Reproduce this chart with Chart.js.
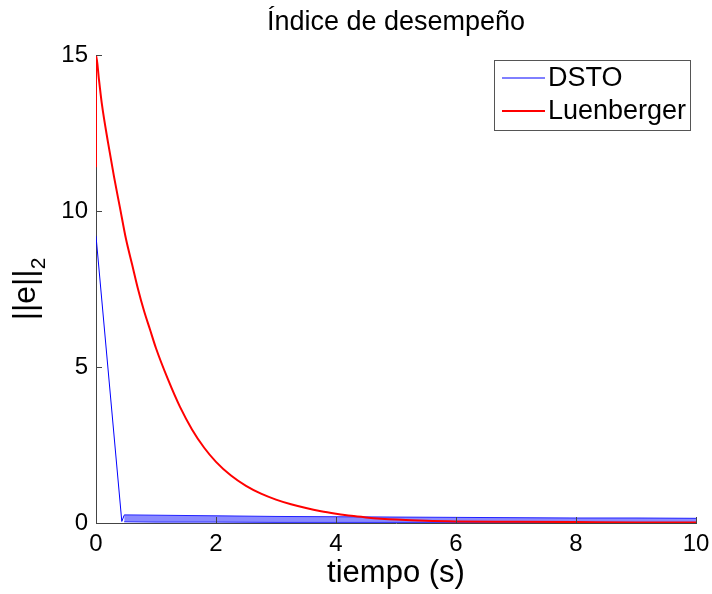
<!DOCTYPE html>
<html>
<head>
<meta charset="utf-8">
<script src="https://cdn.jsdelivr.net/npm/chart.js@4.4.1/dist/chart.umd.min.js"></script>
<style>
  html, body { margin: 0; padding: 0; background: #fff; }
  #wrap { width: 712px; height: 594px; }
</style>
</head>
<body>
<div id="wrap"><canvas id="myChart" width="712" height="594"></canvas></div>
<script>
// datos
const tiempoLuen = [0, 0, 0.05, 0.1, 0.2, 0.3, 0.4, 0.5, 0.6, 0.7, 0.8, 0.9, 1.0, 1.2, 1.4, 1.6, 1.8, 2.0, 2.25, 2.5, 2.75, 3.0, 3.25, 3.5, 3.75, 4.0, 4.25, 4.5, 4.75, 5.0, 5.5, 6.0, 7.0, 8.0, 9.0, 10.0]
const luenberger = [11.4, 15, 14.2, 13.4, 12.2, 11.1, 10.1, 9.1, 8.3, 7.5, 6.8, 6.2, 5.6, 4.6, 3.72, 3.0, 2.42, 1.96, 1.52, 1.19, 0.94, 0.75, 0.6, 0.48, 0.38, 0.3, 0.23, 0.18, 0.14, 0.11, 0.07, 0.05, 0.04, 0.03, 0.02, 0.02]

const tiempoDsto = [0, 0.43, 0.47]
const dsto = [9.2, 0.05, 0.25]

// banda de oscilacion del DSTO (envolventes)
const tiempoBanda = [0.47, 1, 2, 3, 4, 5, 6, 7, 8, 9, 10]
const bandaAlta = [0.26, 0.25, 0.23, 0.21, 0.2, 0.19, 0.18, 0.17, 0.16, 0.16, 0.15]
const bandaBaja = [0.04, 0.03, 0.03, 0.02, 0.02, 0.02, 0.02, 0.02, 0.02, 0.02, 0.02]

const ticksX = [0, 2, 4, 6, 8, 10]
const ticksY = [0, 5, 10, 15]

const fuente = "'Liberation Sans', Arial, Helvetica, sans-serif"
Chart.defaults.font.family = fuente
Chart.defaults.color = "#000"

const pares = (xs, ys) => xs.map((x, i) => ({ x: x, y: ys[i] }))

// marcas de los ejes hacia adentro (estilo matlab)
const marcasAdentro = {
  id: "marcasAdentro",
  afterDatasetsDraw(chart) {
    const { ctx, chartArea, scales } = chart
    ctx.save()
    ctx.strokeStyle = "#444"
    ctx.lineWidth = 1
    ticksX.forEach(v => {
      const px = Math.round(scales.x.getPixelForValue(v)) + 0.5
      ctx.beginPath()
      ctx.moveTo(px, chartArea.bottom)
      ctx.lineTo(px, chartArea.bottom - 6)
      ctx.stroke()
    })
    ticksY.forEach(v => {
      const py = Math.round(scales.y.getPixelForValue(v)) + 0.5
      ctx.beginPath()
      ctx.moveTo(chartArea.left, py)
      ctx.lineTo(chartArea.left + 6, py)
      ctx.stroke()
    })
    ctx.restore()
  }
}

// titulo del eje y con subindice
const tituloY = {
  id: "tituloY",
  afterDraw(chart) {
    const { ctx, chartArea } = chart
    const yc = (chartArea.top + chartArea.bottom) / 2
    ctx.save()
    ctx.translate(35, yc)
    ctx.rotate(-Math.PI / 2)
    ctx.fillStyle = "#000"
    ctx.textBaseline = "alphabetic"
    ctx.font = "32px " + fuente
    const principal = "||e||"
    const w1 = ctx.measureText(principal).width
    ctx.font = "21px " + fuente
    const w2 = ctx.measureText("2").width
    const x0 = -(w1 + w2) / 2
    ctx.font = "32px " + fuente
    ctx.fillText(principal, x0, 0)
    ctx.font = "21px " + fuente
    ctx.fillText("2", x0 + w1, 10)
    ctx.restore()
  }
}

// leyenda dentro del area
const leyenda = {
  id: "leyenda",
  afterDraw(chart) {
    const { ctx, chartArea } = chart
    const items = chart.data.datasets.filter(d => d.label)
    const ancho = 196, alto = 70
    const x0 = chartArea.right - 6 - ancho
    const y0 = chartArea.top + 5
    ctx.save()
    ctx.fillStyle = "#fff"
    ctx.fillRect(x0, y0, ancho, alto)
    ctx.strokeStyle = "#555"
    ctx.lineWidth = 1
    ctx.strokeRect(Math.round(x0) + 0.5, Math.round(y0) + 0.5, ancho, alto)
    ctx.font = "27px " + fuente
    ctx.textBaseline = "middle"
    items.forEach((d, i) => {
      const y = y0 + 18 + i * 33
      ctx.strokeStyle = d.borderColor
      ctx.lineWidth = d.borderWidth
      ctx.beginPath()
      ctx.moveTo(x0 + 8, y)
      ctx.lineTo(x0 + 51, y)
      ctx.stroke()
      ctx.fillStyle = "#000"
      ctx.fillText(d.label, x0 + 54, y + 1)
    })
    ctx.restore()
  }
}

const config = {
  type: "line",
  data: {
    datasets: [
      {
        label: "DSTO",
        data: pares(tiempoDsto, dsto),
        borderColor: "#0000ff",
        borderWidth: 1,
        pointRadius: 0,
        order: 1
      },
      {
        label: "Luenberger",
        data: pares(tiempoLuen, luenberger),
        borderColor: "#ff0000",
        borderWidth: 2,
        pointRadius: 0,
        cubicInterpolationMode: "monotone",
        order: 0
      },
      {
        data: pares(tiempoBanda, bandaAlta),
        borderColor: "#2020ff",
        backgroundColor: "rgba(60,60,255,0.6)",
        borderWidth: 1,
        pointRadius: 0,
        fill: "+1",
        order: 2
      },
      {
        data: pares(tiempoBanda, bandaBaja),
        borderColor: "#2020ff",
        borderWidth: 1,
        pointRadius: 0,
        fill: false,
        order: 2
      }
    ]
  },
  options: {
    responsive: false,
    animation: false,
    layout: { padding: { left: 0, right: 16, top: 0, bottom: 0 } },
    plugins: {
      legend: { display: false },
      tooltip: { enabled: false },
      title: {
        display: true,
        fullSize: false,
        text: "Índice de desempeño",
        font: { size: 27, weight: "normal" },
        color: "#000",
        padding: { top: 6.3, bottom: 16.3 }
      }
    },
    scales: {
      x: {
        type: "linear",
        min: 0,
        max: 10,
        afterFit: s => { s.height = 71; s.paddingLeft = 0; s.paddingRight = 0 },
        afterBuildTicks: s => { s.ticks = ticksX.map(v => ({ value: v })) },
        ticks: { font: { size: 24 }, padding: 7, maxRotation: 0, color: "#000" },
        grid: { drawOnChartArea: false, drawTicks: false },
        border: { display: true, color: "#444", width: 1 },
        title: { display: true, text: "tiempo (s)", font: { size: 31 }, color: "#000", padding: { top: 0, bottom: 2 } }
      },
      y: {
        type: "linear",
        min: 0,
        max: 15,
        afterFit: s => { s.width = 96; s.paddingTop = 0; s.paddingBottom = 0 },
        afterBuildTicks: s => { s.ticks = ticksY.map(v => ({ value: v })) },
        ticks: { font: { size: 24 }, padding: 8, color: "#000" },
        grid: { drawOnChartArea: false, drawTicks: false },
        border: { display: true, color: "#444", width: 1 }
      }
    }
  },
  plugins: [marcasAdentro, tituloY, leyenda]
}

const grafico = new Chart(document.getElementById("myChart"), config)
</script>
</body>
</html>
